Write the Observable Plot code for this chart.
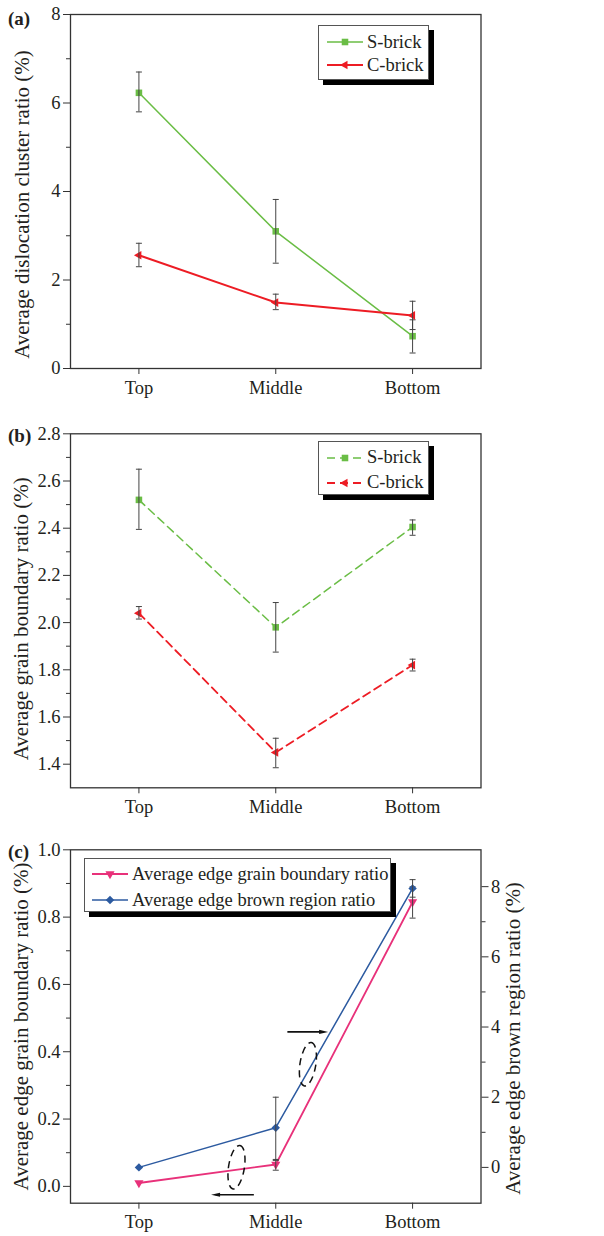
<!DOCTYPE html>
<html>
<head>
<meta charset="utf-8">
<script src="https://cdn.jsdelivr.net/npm/d3@7"></script>
<script src="https://cdn.jsdelivr.net/npm/@observablehq/plot@0.6"></script>
<style>
  body { margin: 0; background: #fff; }
  #wrap { position: relative; width: 604px; height: 1236px; font-family: "Liberation Serif", "Times New Roman", serif; color: #231f20; }
  .panel { position: absolute; left: 0; width: 604px; }
  .panel svg { display: block; }
  .panel svg, .panel svg text { font-family: "Liberation Serif", "Times New Roman", serif !important; }
  .plabel { position: absolute; font-weight: bold; font-size: 19px; line-height: 1; }
  .legend { position: absolute; background: #fff; border: 1px solid #555; box-shadow: 5px 5px 0 #000; box-sizing: border-box; }
  .legend .row { position: absolute; left: 0; height: 22px; display: flex; align-items: center; white-space: nowrap; font-size: 18.5px; }
</style>
</head>
<body>
<div id="wrap"></div>
<script>
// ---------------- Data ----------------
const categories = ["Top", "Middle", "Bottom"];
const catIndex = [1, 2, 3];

// Panel (a): average dislocation cluster ratio (%)
const aSbrick = [6.23, 3.10, 0.73];
const aSbrickLow = [5.80, 2.38, 0.35];
const aSbrickHigh = [6.70, 3.82, 1.10];
const aCbrick = [2.56, 1.49, 1.20];
const aCbrickLow = [2.30, 1.33, 0.88];
const aCbrickHigh = [2.83, 1.68, 1.52];
const aYDomain = [0, 8];
const aYTicks = [0, 2, 4, 6, 8];
const aYMinor = [1, 3, 5, 7];

// Panel (b): average grain boundary ratio (%)
const bSbrick = [2.52, 1.98, 2.405];
const bSbrickLow = [2.395, 1.875, 2.37];
const bSbrickHigh = [2.65, 2.085, 2.435];
const bCbrick = [2.04, 1.45, 1.82];
const bCbrickLow = [2.015, 1.385, 1.795];
const bCbrickHigh = [2.068, 1.51, 1.845];
const bYDomain = [1.3, 2.8];
const bYTicks = [1.4, 1.6, 1.8, 2.0, 2.2, 2.4, 2.6, 2.8];
const bYMinor = [1.5, 1.7, 1.9, 2.1, 2.3, 2.5, 2.7];

// Panel (c): edge grain boundary ratio (left axis) and edge brown region ratio (right axis)
const cGrain = [0.01, 0.065, 0.845];
const cGrainLow = [null, 0.048, 0.797];
const cGrainHigh = [null, 0.080, 0.890];
const cBrown = [0.0, 1.13, 7.95];
const cBrownLow = [null, 0.2, 7.7];
const cBrownHigh = [null, 2.0, 8.2];
const cLeftDomain = [-0.05, 1.0];
const cLeftTicks = [0, 0.2, 0.4, 0.6, 0.8, 1.0];
const cLeftMinor = [0.1, 0.3, 0.5, 0.7, 0.9];
const cRightDomain = [-1.02, 9.05];
const cRightTicks = [0, 2, 4, 6, 8];
const cRightMinor = [1, 3, 5, 7];

// Panel (c) annotations (left-axis data coordinates)
const cArrowX1 = [1.84, 2.085];
const cArrowX2 = [1.56, 2.35];
const cArrowY = [-0.025, 0.459];
const cEllipseX = [1.713, 2.235];
const cEllipseY = [0.057, 0.363];

// ---------------- Styling ----------------
const FONT = '"Liberation Serif", "Times New Roman", serif';
const TEXT = "#231f20";
const GREEN = "#6abd45";
const RED = "#ed1c24";
const PINK = "#e8317a";
const BLUE = "#2c5aa0";
const ERR = "#444";

const capSymbol = {
  draw(ctx, size) { const h = Math.sqrt(size / Math.PI); ctx.moveTo(-h, 0); ctx.lineTo(h, 0); }
};
const ellipseSymbol = {
  draw(ctx, size) {
    const ry = Math.sqrt(size / Math.PI), rx = ry * 0.36, k = 0.5523;
    ctx.moveTo(0, -ry);
    ctx.bezierCurveTo(k * rx, -ry, rx, -k * ry, rx, 0);
    ctx.bezierCurveTo(rx, k * ry, k * rx, ry, 0, ry);
    ctx.bezierCurveTo(-k * rx, ry, -rx, k * ry, -rx, 0);
    ctx.bezierCurveTo(-rx, -k * ry, -k * rx, -ry, 0, -ry);
    ctx.closePath();
  }
};
const headSymbol = {
  // small filled arrow head pointing right (rotate to orient)
  draw(ctx, size) { const h = Math.sqrt(size / Math.PI); ctx.moveTo(h, 0); ctx.lineTo(-h, -h * 0.45); ctx.lineTo(-h, h * 0.45); ctx.closePath(); }
};

function rows(values, low, high, f = (v) => v) {
  return categories.map((c, i) => ({
    x: catIndex[i], y: f(values[i]),
    lo: low[i] == null ? null : f(low[i]),
    hi: high[i] == null ? null : f(high[i])
  }));
}

function seriesMarks(s) {
  const withErr = s.rows.filter((d) => d.lo != null);
  return [
    Plot.line(s.rows, {x: "x", y: "y", stroke: s.color, strokeWidth: s.strokeWidth, strokeDasharray: s.dash || null}),
    Plot.dot(s.rows, {x: "x", y: "y", symbol: s.symbol, rotate: s.rotate || 0, r: s.r, fill: s.color, stroke: "none"}),
    Plot.ruleX(withErr, {x: "x", y1: "lo", y2: "hi", stroke: ERR, strokeWidth: 1}),
    Plot.dot(withErr, {x: "x", y: "lo", symbol: capSymbol, r: 3, fill: "none", stroke: ERR, strokeWidth: 1}),
    Plot.dot(withErr, {x: "x", y: "hi", symbol: capSymbol, r: 3, fill: "none", stroke: ERR, strokeWidth: 1})
  ];
}

function d3Symbol(name) {
  return {square: d3.symbolSquare, triangle: d3.symbolTriangle, diamond2: d3.symbolDiamond2}[name];
}

function addLegend(panelDiv, cfg) {
  const box = document.createElement("div");
  box.className = "legend";
  Object.assign(box.style, {left: cfg.left + "px", top: cfg.top + "px", width: cfg.width + "px", height: cfg.height + "px"});
  cfg.items.forEach((s, i) => {
    const row = document.createElement("div");
    row.className = "row";
    row.style.top = (cfg.rowY[i] - 11) + "px";
    row.style.left = cfg.swatchLeft + "px";
    const svg = d3.create("svg").attr("width", 38).attr("height", 22).style("margin-right", "2px");
    svg.append("line").attr("x1", 0).attr("x2", 36).attr("y1", 11).attr("y2", 11)
      .attr("stroke", s.color).attr("stroke-width", s.strokeWidth)
      .attr("stroke-dasharray", s.dash || null);
    svg.append("path").attr("d", d3.symbol(d3Symbol(s.symbol), Math.PI * s.r * s.r)())
      .attr("transform", `translate(18,11) rotate(${s.rotate || 0})`).attr("fill", s.color);
    row.appendChild(svg.node());
    const t = document.createElement("span");
    t.textContent = s.name;
    row.appendChild(t);
    box.appendChild(row);
  });
  panelDiv.appendChild(box);
}

function panelLabel(panelDiv, text, top) {
  const d = document.createElement("div");
  d.className = "plabel";
  d.textContent = text;
  d.style.left = "8px";
  d.style.top = top + "px";
  panelDiv.appendChild(d);
}

const wrap = document.getElementById("wrap");
function makePanelDiv(top) {
  const d = document.createElement("div");
  d.className = "panel";
  d.style.top = top + "px";
  wrap.appendChild(d);
  return d;
}

function baseOptions(height, marginTop, marginBottom, yDomain) {
  return {
    width: 604, height, marginLeft: 70, marginRight: 123.5, marginTop, marginBottom,
    style: {fontFamily: FONT, fontSize: "18.5px", color: TEXT, background: "transparent"},
    x: {domain: [0.5, 3.5], label: null},
    y: {domain: yDomain, label: null}
  };
}

function xAxis() {
  return Plot.axisX({ticks: catIndex, tickFormat: (i) => categories[i - 1], tickSize: 6, tickPadding: 6, label: null, stroke: "#333"});
}
function yAxes(ticks, minor, fmt, anchor = "left", f = (v) => v, inv = (v) => v) {
  return [
    Plot.axisY({anchor, ticks: ticks.map(f), tickFormat: (d) => fmt(inv(d)), tickSize: 7, tickPadding: 3, label: null, stroke: "#333"}),
    Plot.axisY({anchor, ticks: minor.map(f), tickFormat: () => "", tickSize: 4, label: null, stroke: "#333"})
  ];
}
function axisTitle(text, anchor, dx, dy) {
  return Plot.text([text], {frameAnchor: anchor, text: (d) => d, rotate: -90, dx, dy, fontSize: 21, fill: TEXT, textAnchor: "middle", lineAnchor: "middle"});
}
const frame = () => Plot.frame({stroke: "#333", strokeWidth: 1.3});

// ---------------- Panel (a) ----------------
const aSeries = [
  {name: "S-brick", rows: rows(aSbrick, aSbrickLow, aSbrickHigh), color: GREEN, symbol: "square", r: 3.7, strokeWidth: 1.5},
  {name: "C-brick", rows: rows(aCbrick, aCbrickLow, aCbrickHigh), color: RED, symbol: "triangle", rotate: -90, r: 3.2, strokeWidth: 2}
];
{
  const div = makePanelDiv(0);
  const plot = Plot.plot({
    ...baseOptions(410, 14, 42, aYDomain),
    marks: [
      xAxis(),
      ...yAxes(aYTicks, aYMinor, d3.format("d")),
      axisTitle("Average dislocation cluster ratio (%)", "left", -48, 13),
      ...aSeries.flatMap(seriesMarks),
      frame()
    ]
  });
  div.appendChild(plot);
  addLegend(div, {left: 318, top: 25, width: 111, height: 55, rowY: [16, 39], swatchLeft: 8, items: aSeries});
  panelLabel(div, "(a)", 9);
}

// ---------------- Panel (b) ----------------
const bSeries = [
  {name: "S-brick", rows: rows(bSbrick, bSbrickLow, bSbrickHigh), color: GREEN, symbol: "square", r: 3.7, strokeWidth: 1.5, dash: "8,5"},
  {name: "C-brick", rows: rows(bCbrick, bCbrickLow, bCbrickHigh), color: RED, symbol: "triangle", rotate: -90, r: 3.2, strokeWidth: 1.8, dash: "8,5"}
];
{
  const div = makePanelDiv(410);
  const plot = Plot.plot({
    ...baseOptions(410, 23.3, 32.7, bYDomain),
    marks: [
      xAxis(),
      ...yAxes(bYTicks, bYMinor, d3.format(".1f")),
      axisTitle("Average grain boundary ratio (%)", "left", -49, 8),
      ...bSeries.flatMap(seriesMarks),
      frame()
    ]
  });
  div.appendChild(plot);
  addLegend(div, {left: 318, top: 30.7, width: 111, height: 54.3, rowY: [16, 41], swatchLeft: 8, items: bSeries});
  panelLabel(div, "(b)", 16);
}

// ---------------- Panel (c) ----------------
const toLeft = d3.scaleLinear().domain(cRightDomain).range(cLeftDomain);
const toRight = toLeft.copy().domain(cLeftDomain).range(cRightDomain);
const cSeries = [
  {name: "Average edge grain boundary ratio", rows: rows(cGrain, cGrainLow, cGrainHigh), color: PINK, symbol: "triangle", rotate: 180, r: 3.4, strokeWidth: 1.8},
  {name: "Average edge brown region ratio", rows: rows(cBrown, cBrownLow, cBrownHigh, toLeft), color: BLUE, symbol: "diamond2", r: 3.8, strokeWidth: 1.5}
];
const cArrows = cArrowY.map((y, i) => ({x1: cArrowX1[i], x2: cArrowX2[i], y, dir: cArrowX2[i] > cArrowX1[i] ? 0 : 180}));
const cEllipses = cEllipseX.map((x, i) => ({x, y: cEllipseY[i]}));
{
  const div = makePanelDiv(820);
  const plot = Plot.plot({
    ...baseOptions(416, 29.3, 33.3, cLeftDomain),
    marks: [
      xAxis(),
      ...yAxes(cLeftTicks, cLeftMinor, d3.format(".1f")),
      ...yAxes(cRightTicks, cRightMinor, (v) => d3.format("d")(Math.round(v)), "right", toLeft, toRight),
      axisTitle("Average edge grain boundary ratio (%)", "left", -49, 0),
      axisTitle("Average edge brown region ratio (%)", "right", 32, 12),
      ...cSeries.flatMap(seriesMarks),
      Plot.dot(cEllipses, {x: "x", y: "y", symbol: ellipseSymbol, r: 22, rotate: 9, fill: "none", stroke: "#111", strokeWidth: 1.5, strokeDasharray: "7,5"}),
      Plot.link(cArrows, {x1: "x1", x2: "x2", y1: "y", y2: "y", stroke: "#111", strokeWidth: 1.6}),
      Plot.dot(cArrows, {x: "x2", y: "y", symbol: headSymbol, rotate: "dir", r: 4.5, fill: "#111", stroke: "none"}),
      frame()
    ]
  });
  div.appendChild(plot);
  addLegend(div, {left: 84, top: 38, width: 307, height: 54, rowY: [15, 41], swatchLeft: 7, items: cSeries});
  panelLabel(div, "(c)", 22);
}
</script>
</body>
</html>
